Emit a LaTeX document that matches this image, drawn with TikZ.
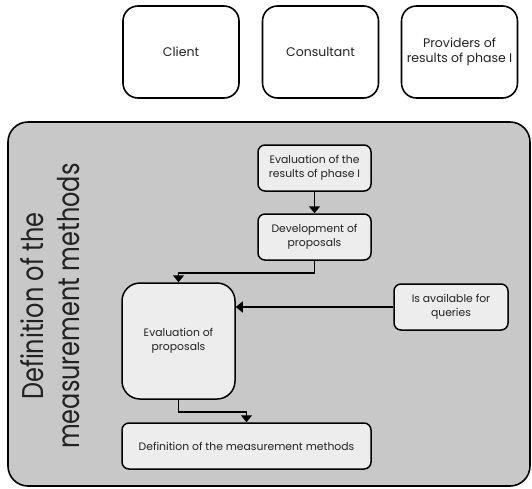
\documentclass[tikz,border=0pt]{standalone}
\usepackage{fontspec}
\usetikzlibrary{arrows.meta,positioning}
\setmainfont{Poppins}
\newfontfamily\labelfont[FakeStretch=0.8]{Poppins}
\definecolor{panelgray}{HTML}{C8C8C8}
\definecolor{boxgray}{HTML}{EDEDED}
\definecolor{inkgray}{HTML}{222222}
\begin{document}
\begin{tikzpicture}[x=1pt,y=-1pt,
  actor/.style={draw=black,line width=1.6pt,fill=white,rounded corners=15pt,
    minimum width=116pt,minimum height=92pt,inner sep=0pt,align=center,
    font=\fontsize{12.5}{15}\selectfont,text=inkgray},
  task/.style={draw=black,line width=1.5pt,fill=boxgray,rounded corners=7pt,
    minimum height=46pt,inner sep=0pt,align=center,
    font=\fontsize{10.8}{13.5}\selectfont,text=inkgray},
  flow/.style={line width=1.5pt,-{Triangle[width=11pt,length=7pt]}},
  biglabel/.style={rotate=90,anchor=base,font=\labelfont\fontsize{30}{34}\selectfont,text=inkgray}]
\useasboundingbox (0,0) rectangle (532,488);

% participants
\node[actor] (client) at (181,52) {Client};
\node[actor] (consultant) at (320.5,52) {Consultant};
\node[actor] (providers) at (459.5,52) {Providers of\\results of phase I};

% phase panel
\node[draw=black,line width=1.6pt,fill=panelgray,rounded corners=20pt,
  minimum width=522pt,minimum height=364pt,inner sep=0pt] (panel) at (269,304) {};
\node[biglabel] (title1) at (43,306) {Definition of the};
\node[biglabel] (title2) at (79,306) {measurement methods};

% activities
\node[task,minimum width=113pt] (evalres) at (314.5,168) {Evaluation of the\\results of phase I};
\node[task,minimum width=113pt] (devprop) at (314.5,237) {Development of\\proposals};
\node[task,minimum width=113pt,minimum height=116pt,rounded corners=18pt] (evalprop) at (178.5,341) {Evaluation of\\proposals};
\node[task,minimum width=114pt] (avail) at (451,307) {Is available for\\queries};
\node[task,minimum width=249pt] (defmm) at (246.5,446) {Definition of the measurement methods};

% connectors
\draw[flow] (evalres.south) -- (devprop.north);
\draw[flow] (devprop.south) -- ++(0,12) -| (evalprop.north);
\draw[flow] (avail.west) -- (avail.west -| evalprop.east);
\draw[flow] (evalprop.south) -- ++(0,12) -| (defmm.north);
\end{tikzpicture}
\end{document}
